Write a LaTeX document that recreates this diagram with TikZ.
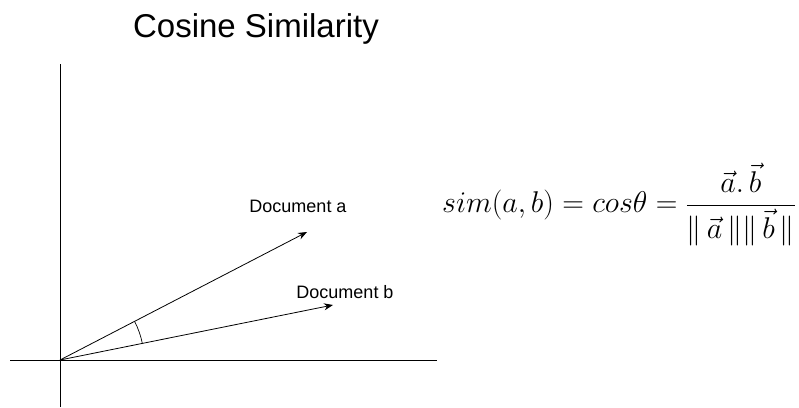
\RequirePackage{fix-cm}
\documentclass[tikz,border=0pt]{standalone}
\usepackage{amsmath}
\usepackage{fontspec}
\setmainfont{Liberation Sans}
\usetikzlibrary{arrows.meta}
\tikzset{
  axis/.style={black,line width=0.9pt},
  vec/.style={-{Stealth[length=9pt,width=7pt]},black,line width=0.8pt},
  angarc/.style={black,line width=0.7pt},
  lab/.style={font=\fontsize{18}{21}\selectfont,inner sep=0pt,anchor=base},
  headline/.style={font=\fontsize{33}{38}\selectfont,inner sep=0pt,anchor=base},
  eqn/.style={font=\fontsize{30}{36}\selectfont,inner sep=0pt},
}

\begin{document}
\begin{tikzpicture}[x=1pt,y=1pt]
  \path[use as bounding box,fill=white] (0,0) rectangle (799,407);
  \node[headline] (title) at (256,369) {Cosine Similarity};

  % axes
  \coordinate (o) at (60,47);
  \coordinate (ytop) at (60,343);
  \coordinate (ybot) at (60,0);
  \coordinate (xleft) at (10,47);
  \coordinate (xright) at (437,47);
  \draw[axis] (ybot) -- (ytop);
  \draw[axis] (xleft) -- (xright);

  % the two documents
  \coordinate (atip) at (307,175);
  \coordinate (btip) at (333,102);
  \draw[vec] (o) -- (atip);
  \draw[vec] (o) -- (btip);
  \draw[angarc] ([shift={(11.4:84)}]o) arc[start angle=11.4,end angle=27.4,radius=84];

  \node[lab] (doca) at (298,194) {Document a};
  \node[lab] (docb) at (345,109) {Document b};

  \node[eqn,anchor=base west] (formula) at (442,194)
    {$\displaystyle sim(a,b)=cos\theta=\frac{\vec{a}.\,\vec{b}}{\Vert\,\vec{a}\,\Vert\Vert\,\vec{b}\,\Vert}$};
\end{tikzpicture}
\end{document}
